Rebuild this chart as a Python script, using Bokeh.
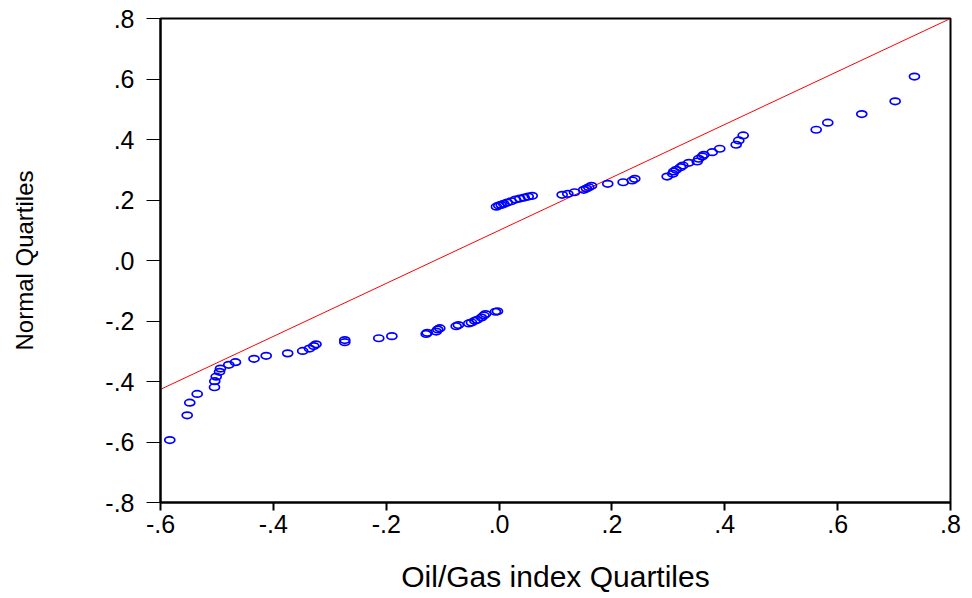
from bokeh.plotting import figure
from bokeh.models import FixedTicker, Range1d
from bokeh.embed import file_html
from bokeh.resources import INLINE

# Quantile pairs (Oil/Gas index quantiles vs normal quantiles)
x_quantiles = [
    -0.5835, -0.5527, -0.5481, -0.5350, -0.5043, -0.5038, -0.5013, -0.4954, -0.4937, -0.4790,
    -0.4671, -0.4343, -0.4127, -0.3746, -0.3480, -0.3360, -0.3283, -0.3244, -0.2734, -0.2734,
    -0.2132, -0.1900, -0.1292, -0.1274, -0.1114, -0.1086, -0.1050, -0.0760, -0.0721, -0.0537,
    -0.0489, -0.0430, -0.0388, -0.0311, -0.0270, -0.0240, -0.0064, -0.0028,
    -0.0046, -0.0005, 0.0037, 0.0083, 0.0144, 0.0215, 0.0291, 0.0367, 0.0445, 0.0516,
    0.0587, 0.1118, 0.1218, 0.1337, 0.1501, 0.1549, 0.1590, 0.1638, 0.1926, 0.2199,
    0.2359, 0.2405, 0.2979, 0.3078, 0.3096, 0.3139, 0.3215, 0.3256, 0.3362, 0.3511,
    0.3539, 0.3599, 0.3628, 0.3777, 0.3911, 0.4202, 0.4248, 0.4326, 0.5620, 0.5825,
    0.6428, 0.7019, 0.7361,
]
y_quantiles = [
    -0.5935, -0.5117, -0.4700, -0.4410, -0.4190, -0.3990, -0.3840, -0.3680, -0.3574, -0.3450,
    -0.3360, -0.3250, -0.3150, -0.3070, -0.2990, -0.2910, -0.2830, -0.2770, -0.2700, -0.2630,
    -0.2570, -0.2500, -0.2430, -0.2390, -0.2350, -0.2280, -0.2236, -0.2170, -0.2136, -0.2080,
    -0.2050, -0.1994, -0.1960, -0.1884, -0.1818, -0.1772, -0.1695, -0.1680,
    0.1780, 0.1816, 0.1839, 0.1872, 0.1915, 0.1958, 0.2014, 0.2048, 0.2081, 0.2114,
    0.2137, 0.2170, 0.2203, 0.2256, 0.2336, 0.2379, 0.2422, 0.2468, 0.2535, 0.2587,
    0.2644, 0.2700, 0.2776, 0.2866, 0.2942, 0.2998, 0.3085, 0.3141, 0.3230, 0.3273,
    0.3363, 0.3439, 0.3495, 0.3581, 0.3694, 0.3826, 0.3969, 0.4134, 0.4323, 0.4555,
    0.4840, 0.5261, 0.6079,
]

# Reference line end points
ref_line_x = [-0.6, 0.8]
ref_line_y = [-0.426, 0.8]

x_ticks = [-0.6, -0.4, -0.2, 0.0, 0.2, 0.4, 0.6, 0.8]
x_tick_labels = ["-.6", "-.4", "-.2", ".0", ".2", ".4", ".6", ".8"]
y_ticks = [-0.8, -0.6, -0.4, -0.2, 0.0, 0.2, 0.4, 0.6, 0.8]
y_tick_labels = ["-.8", "-.6", "-.4", "-.2", ".0", ".2", ".4", ".6", ".8"]

FONT = "Liberation Sans, Arial, sans-serif"

p = figure(
    width=972, height=598,
    x_range=Range1d(-0.6, 0.8), y_range=Range1d(-0.8, 0.8),
    output_backend="svg", toolbar_location=None,
    min_border_left=160, min_border_right=22, min_border_top=18, min_border_bottom=96,
    background_fill_color="white", border_fill_color="white",
)
p.grid.visible = False
p.outline_line_color = "black"
p.outline_line_width = 2

p.line(ref_line_x, ref_line_y, line_color="#ff0000", line_width=1)
p.ellipse(x=x_quantiles, y=y_quantiles, width=10, height=6.5,
          width_units="screen", height_units="screen",
          fill_color=None, line_color="#0000ff", line_width=1.7)

xa = p.xaxis[0]
xa.ticker = FixedTicker(ticks=x_ticks)
xa.major_label_overrides = dict(zip(x_ticks, x_tick_labels))
xa.axis_label = "Oil/Gas index Quartiles"
xa.axis_label_text_font = FONT
xa.axis_label_text_font_size = "30px"
xa.axis_label_text_font_style = "normal"
xa.axis_label_text_color = "black"
xa.axis_label_standoff = 24
xa.major_label_text_font = FONT
xa.major_label_text_font_size = "25px"
xa.major_label_text_color = "black"
xa.major_label_standoff = 4
xa.major_tick_out = 8
xa.major_tick_in = 0
xa.minor_tick_out = 0
xa.minor_tick_in = 0
xa.axis_line_width = 2
xa.axis_line_color = "black"
xa.major_tick_line_color = "black"
xa.major_tick_line_width = 2

ya = p.yaxis[0]
ya.ticker = FixedTicker(ticks=y_ticks)
ya.major_label_overrides = dict(zip(y_ticks, y_tick_labels))
ya.axis_label = "Normal Quartiles"
ya.axis_label_text_font = FONT
ya.axis_label_text_font_size = "24px"
ya.axis_label_text_font_style = "normal"
ya.axis_label_text_color = "black"
ya.axis_label_standoff = 64
ya.major_label_text_font = FONT
ya.major_label_text_font_size = "25px"
ya.major_label_text_color = "black"
ya.major_label_standoff = 12
ya.major_tick_out = 14
ya.major_tick_in = 0
ya.minor_tick_out = 0
ya.minor_tick_in = 0
ya.axis_line_width = 2
ya.axis_line_color = "black"
ya.major_tick_line_color = "black"
ya.major_tick_line_width = 1

open("out.html", "w").write(file_html(p, INLINE))
